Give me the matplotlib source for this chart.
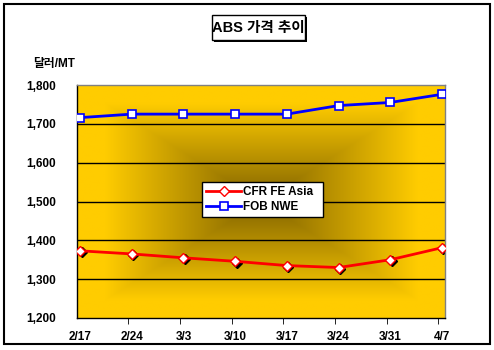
import numpy as np
import matplotlib.pyplot as plt
import matplotlib.transforms as mtransforms
from matplotlib.patches import Rectangle

plt.rcParams['font.family'] = ['Liberation Sans', 'Noto Sans CJK KR']
plt.rcParams['font.weight'] = 'bold'

# --- data ---
dates = ['2/17', '2/24', '3/3', '3/10', '3/17', '3/24', '3/31', '4/7']
cfr_fe_asia = [1373, 1365, 1355, 1346, 1335, 1330, 1350, 1381]
fob_nwe = [1716, 1725, 1725, 1725, 1725, 1747, 1755, 1776]
yticks = [1200, 1300, 1400, 1500, 1600, 1700, 1800]

W, H = 494, 350
fig = plt.figure(figsize=(W / 100, H / 100), dpi=100)
ax = fig.add_axes([77 / W, 1 - 318 / H, 368 / W, 233 / H])

x = np.arange(len(dates))
ax.set_xlim(-0.06, 7.06)
ax.set_ylim(1200, 1800)

# rectangular "from center" gradient like Excel
gold = np.array([255, 204, 0]) / 255
dark = np.array([128, 98, 0]) / 255
gx = np.linspace(-1, 1, 300)
gy = np.linspace(-1, 1, 200)
GX, GY = np.meshgrid(gx, gy)
t = np.clip(np.maximum(np.abs(GX), np.abs(GY)) / 0.85, 0, 1)
img = dark + (gold - dark) * t[..., None]
ax.imshow(img, extent=[-0.06, 7.06, 1200, 1800], aspect='auto', zorder=0,
          interpolation='bilinear')

for v in yticks[1:-1]:
    ax.axhline(v, color='black', lw=1, zorder=1)

# shadow under diamonds
shadow = mtransforms.offset_copy(ax.transData, fig=fig, x=1.5, y=-1.5, units='dots')
ax.plot(x, cfr_fe_asia, 'D', color='black', ms=5.5, transform=shadow, zorder=2)
ax.plot(x, cfr_fe_asia, '-', color='red', lw=2, marker='D', ms=5.5,
        mfc='white', mec='red', mew=1, label='CFR FE Asia  ', zorder=3)
ax.plot(x, fob_nwe, '-', color='blue', lw=2, marker='s', ms=6.3,
        mfc='white', mec='blue', mew=1.2, label='FOB NWE', zorder=3)

ax.set_yticks(yticks)
ax.set_yticklabels([f'{v:,}' for v in yticks])
ax.tick_params(axis='y', length=0, pad=15, labelsize=8.5)
ax.set_xticks(x)
ax.set_xticklabels(dates)
ax.tick_params(axis='x', length=0, pad=9, labelsize=8.5)
ax.set_xticks(x[1:] - 0.07, minor=True)
ax.tick_params(axis='x', which='minor', length=4, direction='out', color='black')

for s in ['left', 'bottom']:
    ax.spines[s].set_color('black')
    ax.spines[s].set_linewidth(1)
for s in ['top', 'right']:
    ax.spines[s].set_color('#808080')
    ax.spines[s].set_linewidth(1)

leg = ax.legend(loc='upper left', bbox_to_anchor=(0.341, 0.583), fontsize=8.5,
                frameon=True, fancybox=False, framealpha=1, edgecolor='black',
                borderpad=0.3, handlelength=3.0, handletextpad=0.1,
                labelspacing=0.3, borderaxespad=0)
leg.get_frame().set_linewidth(1)
leg.set_zorder(5)

# y unit label
fig.text(33 / W, 1 - 64 / H, '달러/MT', fontsize=8.5, fontweight='bold',
         ha='left', va='center')

# title with shadowed box
fig.patches.append(Rectangle((214 / W, 1 - 42 / H), 93 / W, 25 / H,
                             transform=fig.transFigure, facecolor='black',
                             edgecolor='black', lw=0))
fig.patches.append(Rectangle((212 / W, 1 - 40 / H), 93 / W, 25 / H,
                             transform=fig.transFigure, facecolor='white',
                             edgecolor='black', lw=1))
fig.text(258.5 / W, 1 - 28 / H, 'ABS 가격 추이', fontsize=10.5, fontweight='bold',
         ha='center', va='center')

# outer frame
fig.patches.append(Rectangle((4 / W, 1 - 344 / H), 485.5 / W, 340 / H,
                             transform=fig.transFigure, facecolor='none',
                             edgecolor='black', lw=1.5))

fig.savefig('out.png', dpi=100)
